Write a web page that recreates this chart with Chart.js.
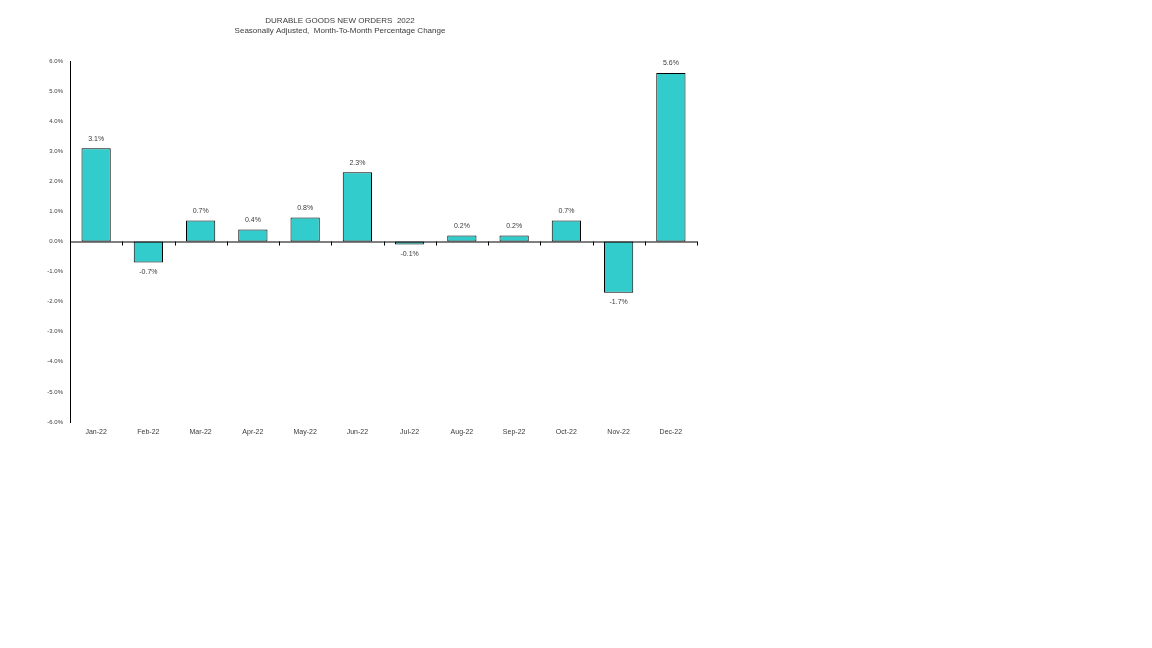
<!DOCTYPE html>
<html><head><meta charset="utf-8">
<script src="https://cdn.jsdelivr.net/npm/chart.js@4"></script>
<style>html,body{margin:0;padding:0;background:#fff}canvas{display:block}</style>
</head><body>
<canvas id="c" width="1152" height="648"></canvas>
<script>
const categories = ["Jan-22","Feb-22","Mar-22","Apr-22","May-22","Jun-22","Jul-22","Aug-22","Sep-22","Oct-22","Nov-22","Dec-22"];
const values = [3.1,-0.7,0.7,0.4,0.8,2.3,-0.1,0.2,0.2,0.7,-1.7,5.6];
const titleLines = ["DURABLE GOODS NEW ORDERS  2022","Seasonally Adjusted,  Month-To-Month Percentage Change"];
const txt = "#3a3a3a";
const font = "'Liberation Sans', sans-serif";

const extras = {
  id:'extras',
  afterDatasetsDraw(chart){
    const ctx = chart.ctx, x = chart.scales.x, y = chart.scales.y, a = chart.chartArea;
    const y0 = y.getPixelForValue(0);
    ctx.save();
    ctx.strokeStyle = '#000'; ctx.lineWidth = 1;
    ctx.beginPath(); ctx.moveTo(a.left, y0+0.5); ctx.lineTo(a.right, y0+0.5); ctx.stroke();
    const w = (a.right - a.left)/categories.length;
    for (let i=1;i<=categories.length;i++){
      const px = Math.round(a.left + w*i)+0.5;
      ctx.beginPath(); ctx.moveTo(px, y0); ctx.lineTo(px, y0+4); ctx.stroke();
    }
    ctx.fillStyle = txt; ctx.font = "7px "+font; ctx.textAlign='center';
    const meta = chart.getDatasetMeta(0);
    meta.data.forEach((b,i)=>{
      const v = values[i];
      const s = v.toFixed(1)+'%';
      if (v>=0){ ctx.textBaseline='bottom'; ctx.fillText(s, b.x, b.y-6); }
      else { ctx.textBaseline='top'; ctx.fillText(s, b.x, b.y+6); }
    });
    ctx.font = "8px "+font; ctx.textBaseline='middle';
    ctx.fillText(titleLines[0], 340, 21);
    ctx.fillText(titleLines[1], 340, 31);
    ctx.restore();
  }
};

new Chart(document.getElementById('c'), {
  type:'bar',
  data:{labels:categories, datasets:[{data:values, backgroundColor:'#33cccc', borderColor:'#000', borderWidth:1, borderSkipped:false, barPercentage:0.56, categoryPercentage:1}]},
  options:{
    responsive:false, animation:false,
    layout:{padding:{left:30, top:61, right:455, bottom:0}},
    plugins:{legend:{display:false}, tooltip:{enabled:false}},
    scales:{
      x:{grid:{display:false, drawTicks:false}, border:{display:false},
         ticks:{color:txt, font:{size:7, family:font}, maxRotation:0, padding:6},
         afterFit(s){ s.height = 648-422; }},
      y:{min:-6, max:6, grid:{display:false, drawTicks:true, tickLength:4, tickColor:'#000'}, border:{display:true,color:'#000'},
         ticks:{stepSize:1, color:txt, font:{size:6, family:font}, padding:3, callback:v=>v.toFixed(1)+'%'},
         afterFit(s){ s.width = 40; }}
    }
  },
  plugins:[extras]
});
</script>
</body></html>
